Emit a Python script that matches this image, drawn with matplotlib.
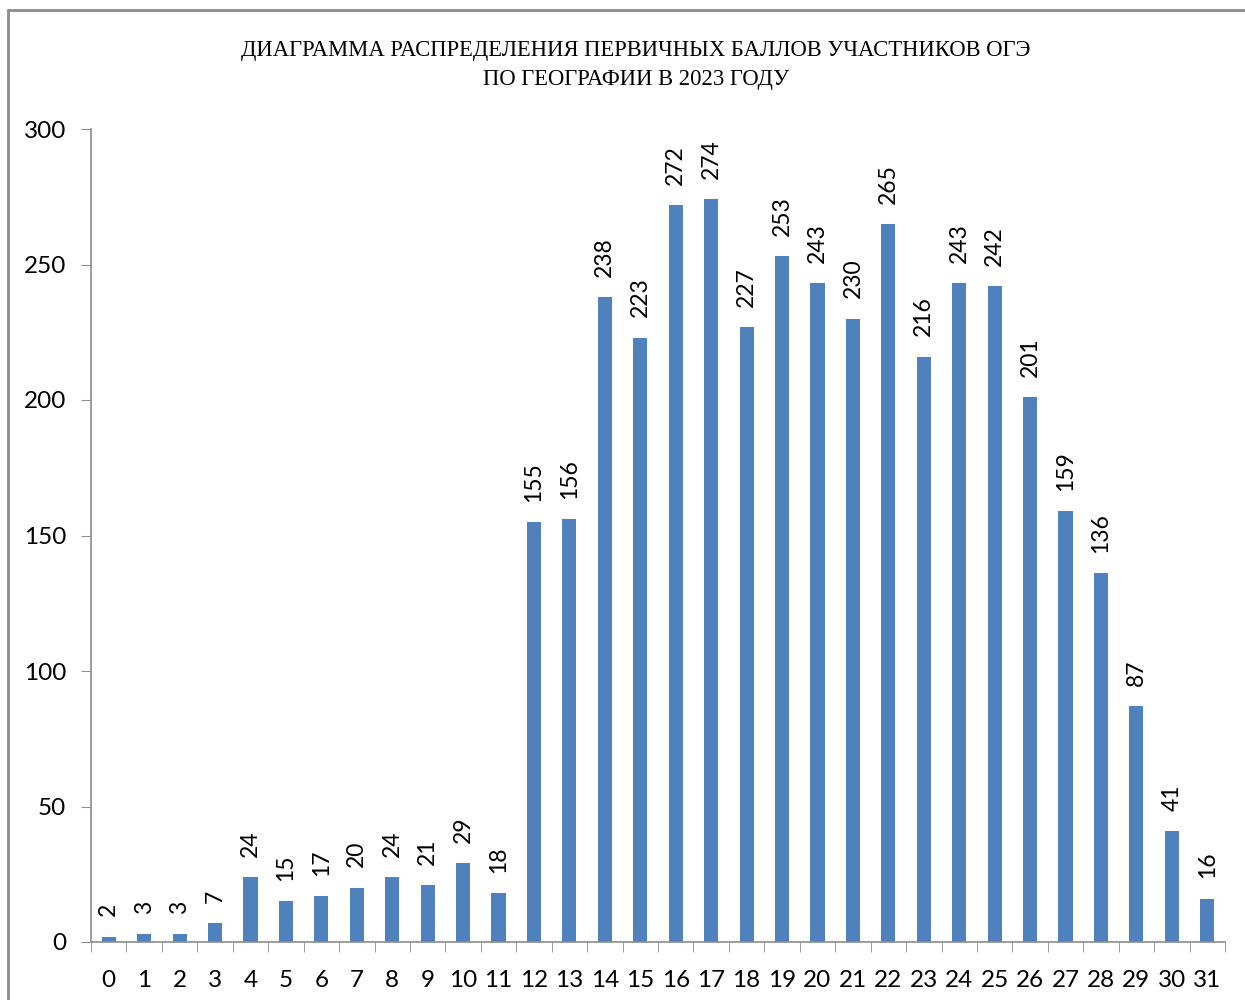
import matplotlib
matplotlib.use("Agg")
import matplotlib.pyplot as plt
from matplotlib.patches import Rectangle

scores = list(range(32))
counts = [2, 3, 3, 7, 24, 15, 17, 20, 24, 21, 29, 18, 155, 156, 238, 223, 272, 274,
          227, 253, 243, 230, 265, 216, 243, 242, 201, 159, 136, 87, 41, 16]
yticks = [0, 50, 100, 150, 200, 250, 300]
title = "ДИАГРАММА РАСПРЕДЕЛЕНИЯ ПЕРВИЧНЫХ БАЛЛОВ УЧАСТНИКОВ ОГЭ\nПО ГЕОГРАФИИ В 2023 ГОДУ"

fig = plt.figure(figsize=(12.45, 10), dpi=100)
fig.patches.append(Rectangle((8/1245, -0.1), 1.2, 1.1 - 10/1000, transform=fig.transFigure,
                             fill=False, edgecolor="#8c8c8c", linewidth=2))
ax = fig.add_axes([91/1245, 58/1000, (1225-91)/1245, (942-129)/1000])

ax.bar(scores, counts, width=0.4, color="#4F81BD")
for x, v in zip(scores, counts):
    ax.text(x, v + 7.5, str(v), rotation=90, ha="center", va="bottom",
            fontsize=16.5, family="Lato")

ax.set_xlim(-0.5, 31.5)
ax.set_ylim(0, 300)
ax.set_yticks(yticks)
ax.set_yticklabels([str(t) for t in yticks], family="Lato", fontsize=17.5)
ax.set_xticks(scores)
ax.set_xticklabels([str(s) for s in scores], family="Lato", fontsize=17.5)
ax.set_xticks([i - 0.5 for i in range(33)], minor=True)
ax.tick_params(axis="x", which="major", length=0, pad=20)
ax.tick_params(axis="x", which="minor", length=7, color="#8c8c8c", direction="out")
ax.tick_params(axis="y", length=7, color="#8c8c8c", direction="out", pad=11)
for s in ["top", "right"]:
    ax.spines[s].set_visible(False)
for s in ["left", "bottom"]:
    ax.spines[s].set_color("#8c8c8c")
    ax.spines[s].set_linewidth(1.2)

fig.text(636/1245, 1 - 65/1000, title, ha="center", va="center", fontsize=16.3,
         family="Liberation Serif", linespacing=1.55)

fig.savefig("out.png", dpi=100)
